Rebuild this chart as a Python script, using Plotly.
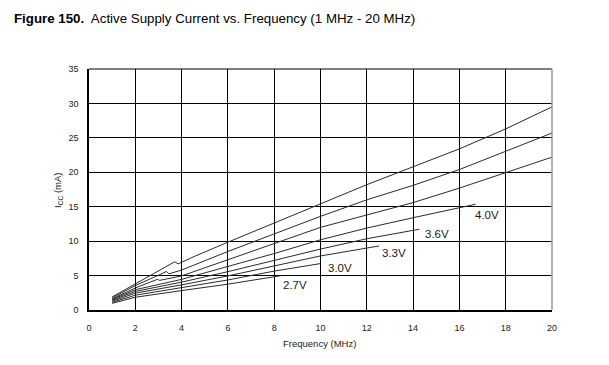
import plotly.graph_objects as go

# ---- data ----
labels = ["5.5V", "5.0V", "4.5V", "4.0V", "3.6V", "3.3V", "3.0V", "2.7V"]

f55 = [1, 2, 3, 3.7, 3.85, 4.6, 6, 8, 10, 12, 14, 16, 18, 20]
i55 = [1.9, 3.8, 5.6, 7.0, 6.7, 7.85, 9.85, 12.6, 15.4, 18.2, 20.8, 23.4, 26.3, 29.5]

f50 = [1, 2, 3, 3.35, 3.45, 4, 6, 8, 10, 12, 14, 16, 18, 20]
i50 = [1.75, 3.55, 5.05, 5.6, 5.25, 5.8, 8.5, 11.1, 13.6, 16.0, 18.1, 20.4, 23.0, 25.7]

f45 = [1, 2, 2.95, 3.05, 4, 6, 8, 10, 12, 14, 16, 18, 20]
i45 = [1.6, 3.2, 4.45, 4.3, 4.95, 7.35, 9.65, 12.0, 13.85, 15.6, 17.7, 19.95, 22.2]

f40 = [1, 2, 4, 6, 8, 10, 12, 14, 16, 16.7]
i40 = [1.5, 2.95, 4.45, 6.3, 8.2, 10.2, 11.9, 13.4, 14.8, 15.36]

f36 = [1, 2, 4, 6, 8, 10, 12, 14.27]
i36 = [1.4, 2.7, 4.05, 5.57, 7.2, 8.85, 10.35, 11.73]

f33 = [1, 2, 4, 6, 8, 10, 12.53]
i33 = [1.25, 2.45, 3.65, 4.95, 6.4, 7.85, 9.3]

f30 = [1, 2, 4, 6, 8, 9.98]
i30 = [1.1, 2.15, 3.25, 4.36, 5.65, 6.73]

f27 = [1, 2, 4, 6, 8.3]
i27 = [0.97, 1.85, 2.82, 3.75, 4.99]

# label positions (data coords)
label_x = [20.9, 20.9, 20.9, 17.18, 15.05, 13.17, 10.84, 8.9]
label_y = [29.8, 25.87, 22.1, 13.8, 11.05, 8.24, 6.15, 3.63]

x_ticks = [0, 2, 4, 6, 8, 10, 12, 14, 16, 18, 20]
y_ticks = [0, 5, 10, 15, 20, 25, 30, 35]

series = [(f55, i55), (f50, i50), (f45, i45), (f40, i40),
          (f36, i36), (f33, i33), (f30, i30), (f27, i27)]

FONT = "Liberation Sans, Arial, sans-serif"

fig = go.Figure()
for (fx, iy), name in zip(series, labels):
    fig.add_trace(go.Scatter(x=fx, y=iy, mode="lines", name=name,
                             line=dict(color="#2a2a2a", width=1),
                             showlegend=False, hoverinfo="skip"))

for name, lx, ly in zip(labels, label_x, label_y):
    fig.add_annotation(x=lx, y=ly, xref="x", yref="y", text=name,
                       showarrow=False, xanchor="center", yanchor="middle",
                       font=dict(family=FONT, size=11.5, color="#1a1a1a"))

# top border (black) and right border (gray)
fig.add_shape(type="line", xref="paper", yref="paper", x0=0, x1=1, y0=1, y1=1,
              line=dict(color="#000000", width=1.2), layer="above")
fig.add_shape(type="line", xref="paper", yref="paper", x0=1, x1=1, y0=0, y1=1,
              line=dict(color="#9a9a9a", width=1.5), layer="above")

# title
fig.add_annotation(xref="paper", yref="paper", x=-0.1663, y=1.2075,
                   xanchor="left", yanchor="middle", showarrow=False,
                   text="<b>Figure 150.</b>  Active Supply Current vs. Frequency (1 MHz - 20 MHz)",
                   font=dict(family=FONT, size=13.3, color="#000000"))
# y title
fig.add_annotation(xref="paper", yref="paper", x=-0.067, y=0.498,
                   xanchor="center", yanchor="middle", showarrow=False,
                   textangle=-90, text="I<sub>CC</sub> (mA)",
                   font=dict(family=FONT, size=9.5, color="#1a1a1a"))
# x title
fig.add_annotation(xref="paper", yref="paper", x=0.4989, y=-0.137,
                   xanchor="center", yanchor="middle", showarrow=False,
                   text="Frequency (MHz)",
                   font=dict(family=FONT, size=9.5, color="#1a1a1a"))

# the page body adds an 8px offset, so the figure is 8px smaller and margins shifted
fig.update_layout(
    width=601, height=357,
    margin=dict(l=81, r=57, t=61, b=55),
    paper_bgcolor="white", plot_bgcolor="white",
    font=dict(family=FONT, size=9, color="#1a1a1a"),
)
fig.update_xaxes(range=[0, 20], tickvals=x_ticks, ticktext=[str(v) for v in x_ticks],
                 showgrid=True, gridcolor="#000000", gridwidth=1,
                 showline=True, linecolor="#000000", linewidth=1.5, mirror=False,
                 zeroline=False, ticks="", ticklabelstandoff=8,
                 tickfont=dict(family=FONT, size=9, color="#1a1a1a"))
fig.update_yaxes(range=[0, 35], tickvals=y_ticks, ticktext=[str(v) for v in y_ticks],
                 showgrid=True, gridcolor="#000000", gridwidth=1,
                 showline=True, linecolor="#000000", linewidth=1.5,
                 zeroline=False, ticks="", ticklabelstandoff=7,
                 tickfont=dict(family=FONT, size=9, color="#1a1a1a"))

fig.write_html("out.html")
